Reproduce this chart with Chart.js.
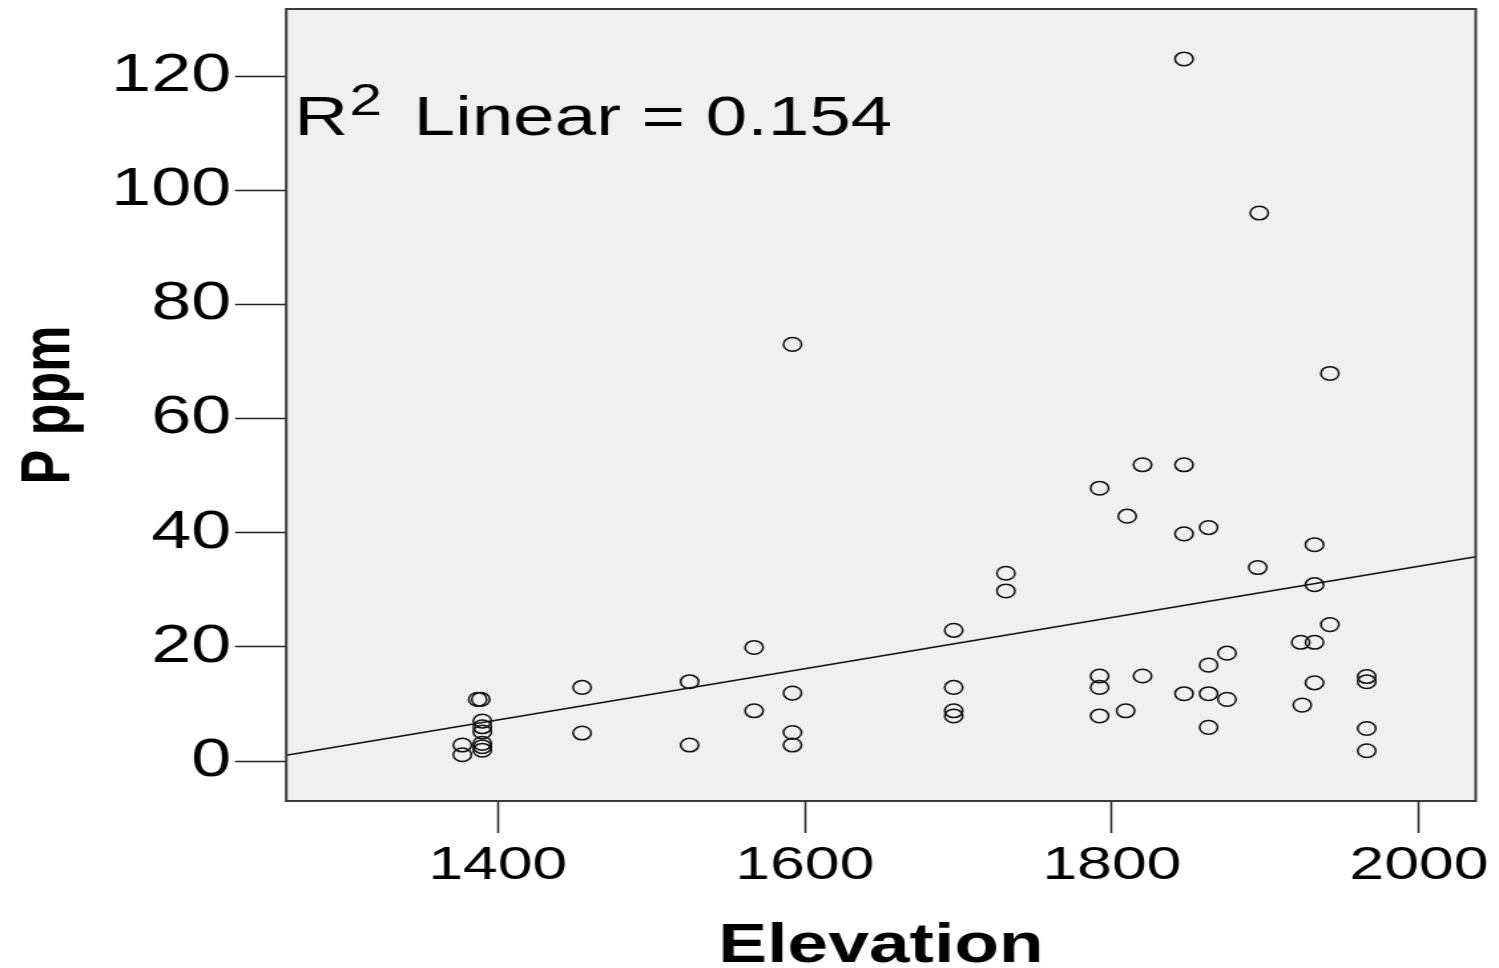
<!DOCTYPE html>
<html>
<head>
<meta charset="utf-8">
<script src="https://cdn.jsdelivr.net/npm/chart.js@4/dist/chart.umd.min.js"></script>
<style>
  html, body { margin: 0; padding: 0; background: #ffffff; overflow: hidden; }
  #wrap { width: 1127px; height: 968px; transform: scaleX(1.3301); transform-origin: 0 0; }
</style>
</head>
<body>
<div id="wrap"><canvas id="c" width="1127" height="968"></canvas></div>
<script>
// ---- data ----
const elevation = [1847, 1896, 1592, 1942, 1820, 1847, 1792, 1810, 1847, 1863,
                   1932, 1895, 1932, 1942, 1923, 1932, 1875, 1863, 1792, 1792,
                   1820, 1847, 1863, 1875, 1792, 1809, 1863, 1932, 1924, 1966,
                   1966, 1966, 1966, 1731, 1731, 1697, 1697, 1697, 1697, 1567,
                   1567, 1525, 1525, 1592, 1592, 1592, 1455, 1455, 1387, 1389,
                   1390, 1390, 1390, 1390, 1390, 1390, 1377, 1377];
const pPpm      = [123.0, 96.0, 73.0, 67.9, 51.9, 51.9, 47.8, 42.9, 39.8, 40.9,
                   37.9, 33.9, 30.9, 23.9, 20.8, 20.8, 18.9, 16.8, 14.9, 12.9,
                   14.9, 11.8, 11.8, 10.8, 7.9, 8.8, 5.9, 13.7, 9.8, 14.8,
                   13.9, 5.7, 1.8, 32.9, 29.8, 22.9, 12.9, 8.8, 7.9, 19.9,
                   8.8, 13.9, 2.8, 11.9, 5.0, 2.8, 12.9, 4.9, 10.8, 10.8,
                   7.0, 6.0, 5.1, 3.1, 2.5, 1.9, 2.8, 1.1];
const fitElevation = [1262.3, 2037];
const fitP         = [1.0, 35.8];
const xTickValues = [1400, 1600, 1800, 2000];
const yTickValues = [0, 20, 40, 60, 80, 100, 120];
const xRange = [1262.3, 2037];
const yRange = [-7.0, 131.75];
const xTitle = 'Elevation';
const yTitle = 'P ppm';
const r2Label = ['R', '2', 'Linear = 0.154'];

const points = elevation.map((x, i) => ({ x: x, y: pPpm[i] }));
const fitLine = fitElevation.map((x, i) => ({ x: x, y: fitP[i] }));

const frame = {
  id: 'frame',
  beforeDatasetsDraw(chart) {
    const a = chart.chartArea, ctx = chart.ctx;
    ctx.save();
    ctx.fillStyle = '#f0f0f0';
    ctx.fillRect(a.left, a.top, a.right - a.left, a.bottom - a.top);
    ctx.restore();
  },
  afterDraw(chart) {
    const a = chart.chartArea, ctx = chart.ctx;
    ctx.save();
    ctx.strokeStyle = '#3a3a3a';
    ctx.lineWidth = 2;
    ctx.strokeRect(a.left, a.top, a.right - a.left, a.bottom - a.top);
    // R² annotation
    ctx.fillStyle = '#000';
    ctx.textBaseline = 'alphabetic';
    ctx.textAlign = 'left';
    let x = a.left + 6;
    ctx.font = '56px "Liberation Sans", Arial, sans-serif';
    ctx.fillText(r2Label[0], x, 135);
    x += ctx.measureText(r2Label[0]).width + 1;
    ctx.font = '44px "Liberation Sans", Arial, sans-serif';
    ctx.fillText(r2Label[1], x, 115);
    x += ctx.measureText(r2Label[1]).width + 24;
    ctx.font = '56px "Liberation Sans", Arial, sans-serif';
    ctx.fillText(r2Label[2], x, 135);
    ctx.restore();
  }
};

new Chart(document.getElementById('c'), {
  type: 'scatter',
  data: {
    datasets: [
      {
        data: points,
        pointStyle: 'circle',
        pointRadius: 6.8,
        pointHoverRadius: 6.8,
        pointBorderWidth: 1.5,
        pointBorderColor: '#111',
        pointBackgroundColor: 'rgba(0,0,0,0)',
        showLine: false
      },
      {
        data: fitLine,
        showLine: true,
        borderColor: '#111',
        borderWidth: 1.6,
        pointRadius: 0,
        fill: false
      }
    ]
  },
  options: {
    responsive: false,
    animation: false,
    devicePixelRatio: 1,
    events: [],
    layout: { padding: { top: 9, right: 17.5, bottom: 0, left: 0 } },
    plugins: { legend: { display: false }, tooltip: { enabled: false } },
    scales: {
      x: {
        type: 'linear',
        min: xRange[0], max: xRange[1],
        afterBuildTicks(s) { s.ticks = xTickValues.map(v => ({ value: v })); },
        afterFit(s) { s.height = 167; },
        grid: { drawOnChartArea: false, drawTicks: true, tickLength: 32, tickColor: '#222', tickWidth: 1.5 },
        border: { display: false },
        ticks: {
          color: '#000', padding: 5, maxRotation: 0, autoSkip: false,
          font: { family: '"Liberation Sans", Arial, sans-serif', size: 47, lineHeight: 1.2 },
          callback: v => String(v)
        },
        title: {
          display: true, text: xTitle, color: '#000', padding: { top: 0, bottom: 0 },
          font: { family: '"Liberation Sans", Arial, sans-serif', size: 55, weight: 'bold', lineHeight: 0.78 }
        }
      },
      y: {
        type: 'linear',
        min: yRange[0], max: yRange[1],
        afterBuildTicks(s) { s.ticks = yTickValues.map(v => ({ value: v })); },
        afterFit(s) { s.width = 215.2; s.paddingTop = 0; s.paddingBottom = 0; },
        grid: { drawOnChartArea: false, drawTicks: true, tickLength: 38.5, tickColor: '#222', tickWidth: 1.5 },
        border: { display: false },
        ticks: {
          color: '#000', padding: 3, autoSkip: false,
          font: { family: '"Liberation Sans", Arial, sans-serif', size: 54, lineHeight: 0.3 },
          callback: v => String(v)
        },
        title: {
          display: true, text: yTitle, color: '#000', padding: { top: 6, bottom: 0 },
          font: { family: '"Liberation Sans", Arial, sans-serif', size: 52, weight: 'bold', lineHeight: 1.2 }
        }
      }
    }
  },
  plugins: [frame]
});
</script>
</body>
</html>
